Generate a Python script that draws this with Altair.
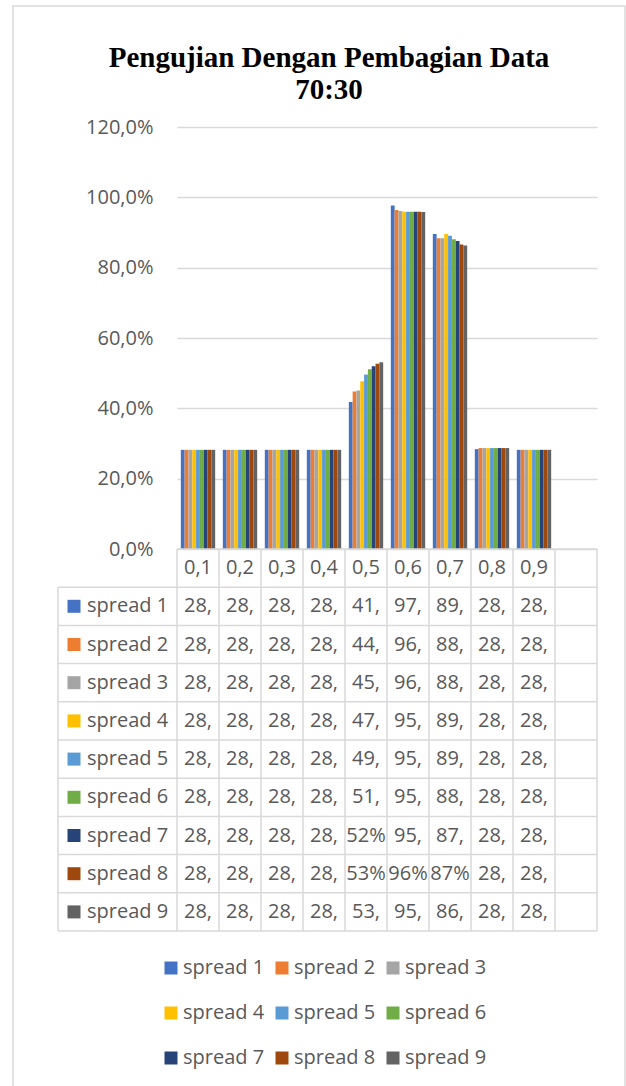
import altair as alt
import pandas as pd

# ---------------- data ----------------
title_lines = ["Pengujian Dengan Pembagian Data", "70:30"]
categories = ["0,1", "0,2", "0,3", "0,4", "0,5", "0,6", "0,7", "0,8", "0,9"]
empty_category = " "
series = ["spread 1", "spread 2", "spread 3", "spread 4", "spread 5",
          "spread 6", "spread 7", "spread 8", "spread 9"]
colors = ["#4472C4", "#ED7D31", "#A5A5A5", "#FFC000", "#5B9BD5",
          "#70AD47", "#264478", "#9E480E", "#636363"]
y_ticks = [0, 20, 40, 60, 80, 100, 120]

# values in percent
spread_1 = [28.2, 28.2, 28.2, 28.2, 41.8, 97.7, 89.6, 28.4, 28.2]
spread_2 = [28.2, 28.2, 28.2, 28.2, 44.8, 96.4, 88.4, 28.7, 28.2]
spread_3 = [28.2, 28.2, 28.2, 28.2, 45.1, 96.1, 88.4, 28.7, 28.2]
spread_4 = [28.2, 28.2, 28.2, 28.2, 47.7, 95.9, 89.6, 28.7, 28.2]
spread_5 = [28.2, 28.2, 28.2, 28.2, 49.6, 95.9, 89.1, 28.7, 28.2]
spread_6 = [28.2, 28.2, 28.2, 28.2, 51.1, 95.9, 88.1, 28.7, 28.2]
spread_7 = [28.2, 28.2, 28.2, 28.2, 52.0, 95.9, 87.6, 28.7, 28.2]
spread_8 = [28.2, 28.2, 28.2, 28.2, 52.7, 95.9, 86.6, 28.7, 28.2]
spread_9 = [28.2, 28.2, 28.2, 28.2, 53.1, 95.8, 86.3, 28.7, 28.2]
all_values = [spread_1, spread_2, spread_3, spread_4, spread_5,
              spread_6, spread_7, spread_8, spread_9]

# data-table cells that are shown in whole-percent format
whole_percent_cells = [("spread 7", "0,5"), ("spread 8", "0,5"),
                       ("spread 8", "0,6"), ("spread 8", "0,7")]


def cell_label(s, c, v):
    # Excel data-table cell text, clipped to the narrow cell width
    if (s, c) in whole_percent_cells:
        txt = f"{round(v)}%"
    else:
        txt = f"{v:.1f}%".replace(".", ",")
    return txt[:3]


rows = []
for s, vals in zip(series, all_values):
    for c, v in zip(categories, vals):
        rows.append({"series": s, "row": s, "cat": c, "value": v,
                     "label": cell_label(s, c, v)})
df = pd.DataFrame(rows)

header_df = pd.DataFrame({"cat": categories, "row": ["_hdr"] * len(categories)})
vlines_df = pd.DataFrame({"cat": categories + [empty_category]})
series_df = pd.DataFrame({"series": series, "row": series})
one_df = pd.DataFrame({"k": [0]})

# ---------------- layout ----------------
W, H = 420, 422
TABLE_TOP, TABLE_BOTTOM = 422, 804
LABEL_COL_X = -119
GRID = "#D9D9D9"
TXT = "#595959"
FONT = "Open Sans"

xscale = alt.Scale(domain=categories + [empty_category], paddingInner=0, paddingOuter=0)
table_scale = alt.Scale(domain=["_hdr"] + series, range=[TABLE_TOP, TABLE_BOTTOM],
                        paddingInner=0, paddingOuter=0)
color_scale = alt.Scale(domain=series, range=colors)

bars = alt.Chart(df).mark_bar().encode(
    x=alt.X("cat:N", scale=xscale, axis=None),
    xOffset=alt.XOffset("series:N", scale=alt.Scale(domain=series, paddingInner=0, paddingOuter=1)),
    y=alt.Y("value:Q", scale=alt.Scale(domain=[0, 120], nice=False),
            axis=alt.Axis(values=y_ticks, title=None, grid=True, gridColor=GRID, gridWidth=1.5,
                          domain=False, ticks=False, tickSize=0, labelPadding=24,
                          labelFont=FONT, labelFontSize=20, labelColor=TXT,
                          labelExpr="replace(format(datum.value, '.1f'), '.', ',') + '%'")),
    color=alt.Color("series:N", scale=color_scale,
                    legend=alt.Legend(orient="none", legendX=-16, legendY=831, direction="horizontal",
                                      columns=3, title=None, symbolType="square", symbolSize=169,
                                      symbolStrokeWidth=0, labelFont=FONT, labelFontSize=20,
                                      labelColor=TXT, labelOffset=2, columnPadding=7,
                                      rowPadding=25, padding=0)),
)

rule_style = dict(color=GRID, strokeWidth=1.5)

# table grid: vertical lines
vlines = alt.Chart(vlines_df).mark_rule(**rule_style).encode(
    x=alt.X("cat:N", scale=xscale, bandPosition=0, axis=None),
    y=alt.value(TABLE_TOP), y2=alt.value(TABLE_BOTTOM),
)
right_edge = alt.Chart(one_df).mark_rule(**rule_style).encode(
    x=alt.value(W), y=alt.value(TABLE_TOP), y2=alt.value(TABLE_BOTTOM),
)
left_edge = alt.Chart(one_df).mark_rule(**rule_style).encode(
    x=alt.value(LABEL_COL_X), y=alt.value(TABLE_TOP + (TABLE_BOTTOM - TABLE_TOP) / 10),
    y2=alt.value(TABLE_BOTTOM),
)
# table grid: horizontal lines
hlines = alt.Chart(series_df).mark_rule(**rule_style).encode(
    y=alt.Y("row:N", scale=table_scale, bandPosition=0, axis=None),
    x=alt.value(LABEL_COL_X), x2=alt.value(W),
)
top_line = alt.Chart(one_df).mark_rule(**rule_style).encode(
    y=alt.value(TABLE_TOP), x=alt.value(0), x2=alt.value(W),
)
bottom_line = alt.Chart(one_df).mark_rule(**rule_style).encode(
    y=alt.value(TABLE_BOTTOM), x=alt.value(LABEL_COL_X), x2=alt.value(W),
)

header_text = alt.Chart(header_df).mark_text(font=FONT, fontSize=20, color=TXT, baseline="middle").encode(
    x=alt.X("cat:N", scale=xscale, axis=None),
    y=alt.Y("row:N", scale=table_scale, axis=None),
    text="cat:N",
)
cell_text = alt.Chart(df).mark_text(font=FONT, fontSize=20, color=TXT, baseline="middle").encode(
    x=alt.X("cat:N", scale=xscale, axis=None),
    y=alt.Y("row:N", scale=table_scale, axis=None),
    text="label:N",
)
row_labels = alt.Chart(series_df).mark_text(font=FONT, fontSize=20, color=TXT, baseline="middle",
                                            align="left").encode(
    x=alt.value(-90),
    y=alt.Y("row:N", scale=table_scale, axis=None),
    text="series:N",
)
row_keys = alt.Chart(series_df).mark_square(size=169, opacity=1, strokeWidth=0).encode(
    x=alt.value(-103),
    y=alt.Y("row:N", scale=table_scale, axis=None),
    color=alt.Color("series:N", scale=color_scale),
)

title = alt.Chart(one_df).mark_text(
    text=title_lines, font="Liberation Serif", fontWeight="bold", fontSize=29,
    lineHeight=32, align="center", baseline="alphabetic", color="#000000",
).encode(x=alt.value(152), y=alt.value(-60))

border = alt.Chart(one_df).mark_rect(fillOpacity=0, stroke=GRID, strokeWidth=1.5).encode(
    x=alt.value(-164), x2=alt.value(448), y=alt.value(-121), y2=alt.value(970),
)

chart = alt.layer(
    border, bars, vlines, right_edge, left_edge, hlines, top_line, bottom_line,
    header_text, cell_text, row_labels, row_keys, title,
).resolve_scale(y="independent").properties(
    width=W, height=H,
    autosize=alt.AutoSizeParams(type="none"),
    padding={"left": 177, "top": 127, "right": 29, "bottom": 537},
    background="white",
).configure_view(strokeWidth=0)

chart.save("out.html", embed_options={"renderer": "svg", "actions": False})
